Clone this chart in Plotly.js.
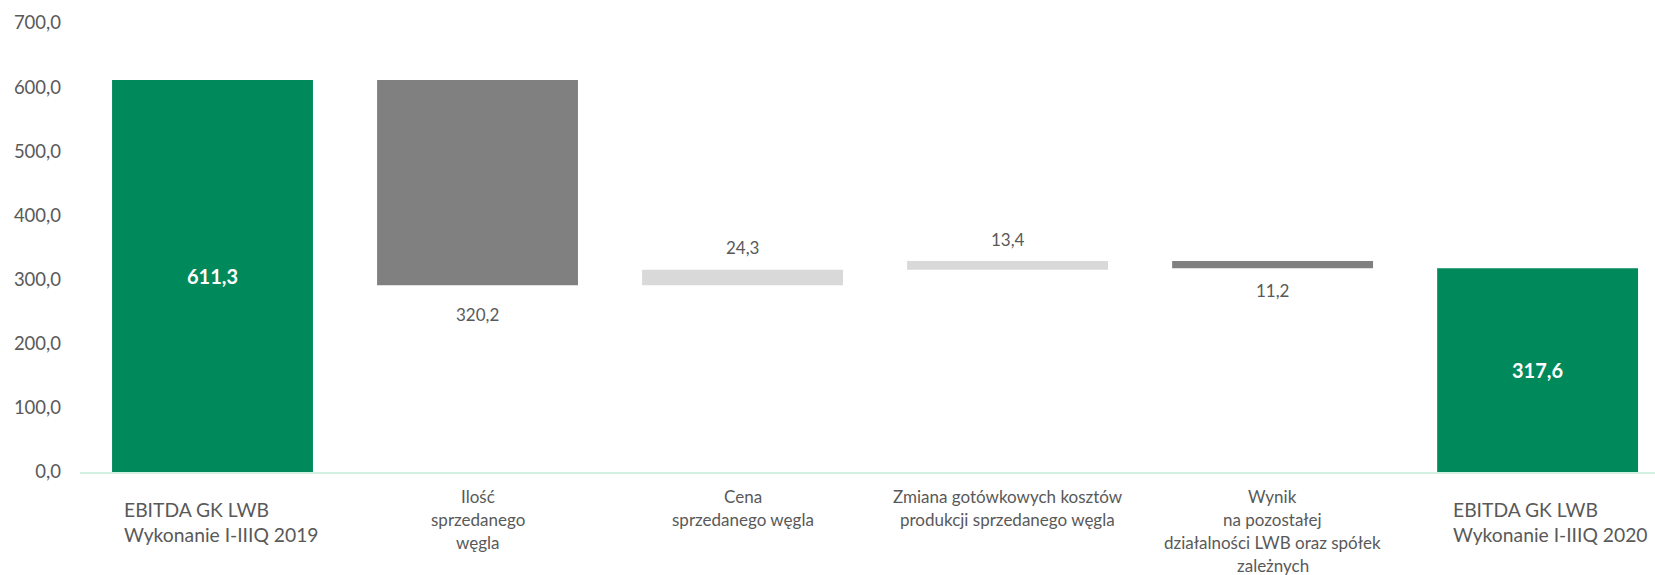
<!DOCTYPE html>
<html>
<head>
<meta charset="utf-8">
<script src="https://cdn.plot.ly/plotly-3.0.1.min.js"></script>
<style>html,body{margin:0;padding:0;background:#fff;}#chart{width:1655px;height:575px;}</style>
</head>
<body>
<div id="chart"></div>
<script>
// ---- data ----
var categoryLines = [
  ['EBITDA GK LWB', 'Wykonanie I-IIIQ 2019'],
  ['Ilość', 'sprzedanego', 'węgla'],
  ['Cena', 'sprzedanego węgla'],
  ['Zmiana gotówkowych kosztów', 'produkcji sprzedanego węgla'],
  ['Wynik', 'na pozostałej', 'działalności LWB oraz spółek', 'zależnych'],
  ['EBITDA GK LWB', 'Wykonanie I-IIIQ 2020']
];
var values = [611.3, -320.2, 24.3, 13.4, -11.2, 317.6];
var measures = ['absolute', 'relative', 'relative', 'relative', 'relative', 'total'];
var yTickValues = [0, 100, 200, 300, 400, 500, 600, 700];

// ---- styling ----
var GREEN = '#00895A', DARK = '#808080', LIGHT = '#D9D9D9', TXT = '#595959';
var FONT = 'Lato, "Open Sans", sans-serif';

function fmt(v) { return Math.abs(v).toFixed(1).replace('.', ','); }

var xs = values.map(function (_, i) { return i; });

var trace = {
  type: 'waterfall',
  x: xs,
  y: values,
  measure: measures,
  increasing: { marker: { color: LIGHT } },
  decreasing: { marker: { color: DARK } },
  totals: { marker: { color: GREEN } },
  connector: { visible: false },
  hoverinfo: 'none',
  textinfo: 'none'
};

// data labels built from values
var annotations = [];
var running = 0;
values.forEach(function (v, i) {
  var m = measures[i];
  if (m === 'absolute' || m === 'total') {
    var tot = (m === 'total') ? running : v;
    running = tot;
    annotations.push({
      xref: 'x', yref: 'y', x: i, y: tot / 2, text: '<b>' + fmt(tot) + '</b>',
      showarrow: false, xanchor: 'center', yanchor: 'middle',
      font: { family: FONT, size: 20, color: '#FFFFFF' }
    });
  } else {
    var start = running, end = running + v;
    running = end;
    var top = Math.max(start, end), bot = Math.min(start, end);
    var above = v > 0;
    var shift = above ? 22 : (i === 1 ? -29 : -22);
    annotations.push({
      xref: 'x', yref: 'y', x: i, y: above ? top : bot, text: fmt(v),
      showarrow: false, xanchor: 'center', yanchor: 'middle', yshift: shift,
      font: { family: FONT, size: 17, color: TXT }
    });
  }
});

// category labels (one annotation per line)
categoryLines.forEach(function (lines, i) {
  var edge = (i === 0 || i === categoryLines.length - 1);
  lines.forEach(function (line, j) {
    annotations.push({
      xref: 'x', yref: 'paper', x: i, y: 0, text: line, showarrow: false,
      xanchor: edge ? 'left' : 'center', yanchor: 'middle', align: edge ? 'left' : 'center',
      xshift: edge ? (i === 0 ? -91 : -87) : 0,
      yshift: edge ? -(37 + 25 * j) : -(24.7 + 22.8 * j),
      font: { family: FONT, size: 19.3, color: TXT }
    });
    if (!edge) { annotations[annotations.length - 1].font.size = 17; }
  });
});

var layout = {
  width: 1655, height: 575,
  margin: { l: 80, r: 0, t: 23, b: 103 },
  paper_bgcolor: '#FFFFFF', plot_bgcolor: '#FFFFFF',
  separators: ', ',
  showlegend: false,
  waterfallgap: 0.242,
  font: { family: FONT, color: TXT },
  xaxis: {
    type: 'linear', range: [-0.5, 5.443], showgrid: false, zeroline: false,
    showticklabels: false, ticks: '', showline: true, linecolor: '#D3F1E3', linewidth: 2,
    fixedrange: true
  },
  yaxis: {
    range: [0, 700], tickvals: yTickValues, tickformat: '.1f', showgrid: false,
    zeroline: false, showline: false, ticks: '', ticklabelstandoff: 18,
    tickfont: { family: FONT, size: 18.5, color: TXT }, fixedrange: true
  },
  annotations: annotations
};

Plotly.newPlot('chart', [trace], layout, { displayModeBar: false, staticPlot: true });
</script>
</body>
</html>
